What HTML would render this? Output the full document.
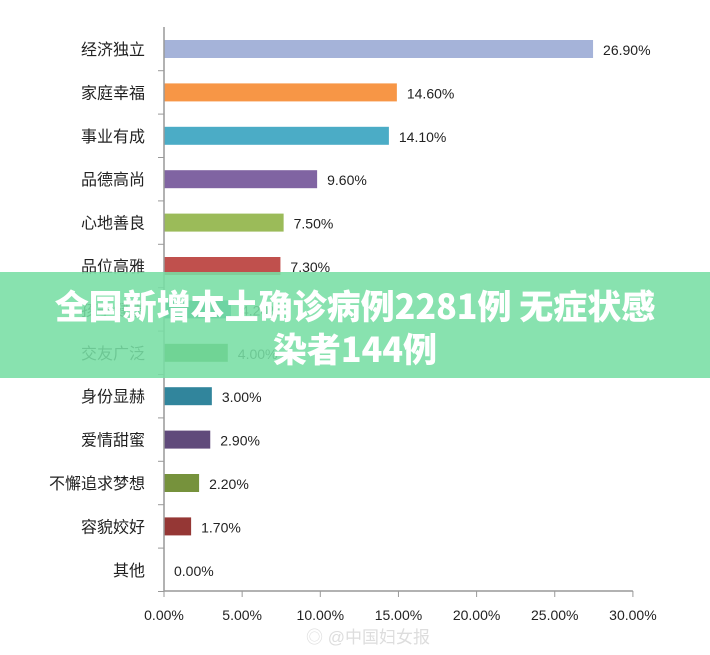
<!DOCTYPE html>
<html><head><meta charset="utf-8"><style>
body{margin:0;background:#fff;width:710px;height:655px;overflow:hidden;position:relative;font-family:"Liberation Sans","Noto Sans CJK SC",sans-serif}
svg{position:absolute;left:0;top:0}
#banner{position:absolute;left:0;top:272px;width:710px;height:106px;background:rgba(120,222,164,0.88);color:#fff;font-weight:900;font-size:34px;text-align:center;line-height:43px;padding-top:11px;box-sizing:border-box;font-family:"Noto Sans CJK SC","Liberation Sans",sans-serif;white-space:nowrap}
</style></head><body>
<svg id="chart" width="710" height="655"></svg>
<div id="banner">全国新增本土确诊病例2281例 无症状感<br>染者144例</div>
<script>
const categories=["经济独立","家庭幸福","事业有成","品德高尚","心地善良","品位高雅","孩子健康","交友广泛","身份显赫","爱情甜蜜","不懈追求梦想","容貌姣好","其他"];
const values=[26.9,14.6,14.1,9.6,7.5,7.3,4.2,4.0,3.0,2.9,2.2,1.7,0.0];
const colors=["#A5B3D9","#F79646","#4BACC6","#8064A2","#9BBB59","#C0504D","#2C8A98","#3E8A2A","#31859C","#604A7B","#76923C","#953735","#999"];
const ticks=[0,5,10,15,20,25,30];
const NS="http://www.w3.org/2000/svg";
const svg=document.getElementById('chart');
const x0=164;
function xBar(v){return x0+v*15.95;}
function xTick(v){return x0+v*15.63;}
function yRow(i){return 49+i*43.4;}
function mk(t,a){const e=document.createElementNS(NS,t);for(const k in a)e.setAttribute(k,a[k]);svg.appendChild(e);return e;}
categories.forEach((c,i)=>{
  const y=yRow(i);
  const r=mk('rect',{x:x0,y:y-9,width:Math.max(0,xBar(values[i])-x0),height:18,fill:colors[i]});
  
  
  const l=mk('text',{x:145,y:y+6,'text-anchor':'end','font-size':16,fill:'#222'});
  l.textContent=c;
  
  
  const v=mk('text',{x:xBar(values[i])+10,y:y+6,'font-size':14,fill:'#222'});
  v.textContent=values[i].toFixed(2)+'%';
  
  
  const tk=mk('line',{x1:x0-6,x2:x0,y1:y+21.7,y2:y+21.7,stroke:'#999'});
  
  
});
const ya=mk('line',{x1:x0,x2:x0,y1:27,y2:591,stroke:'#999','stroke-width':1.5});


const xa=mk('line',{x1:x0,x2:xTick(30),y1:591,y2:591,stroke:'#999','stroke-width':1.5});


ticks.forEach(t=>{
  const l=mk('line',{x1:xTick(t),x2:xTick(t),y1:591,y2:597,stroke:'#999'});
  
  
  const tx=mk('text',{x:xTick(t),y:620,'text-anchor':'middle','font-size':14,fill:'#222'});
  tx.textContent=t.toFixed(2)+'%';
  
  
});
const wm=mk('text',{x:368,y:643,'text-anchor':'middle','font-size':17,fill:'#ddd'});
wm.textContent='◎ @中国妇女报';


</script>
</body></html>
